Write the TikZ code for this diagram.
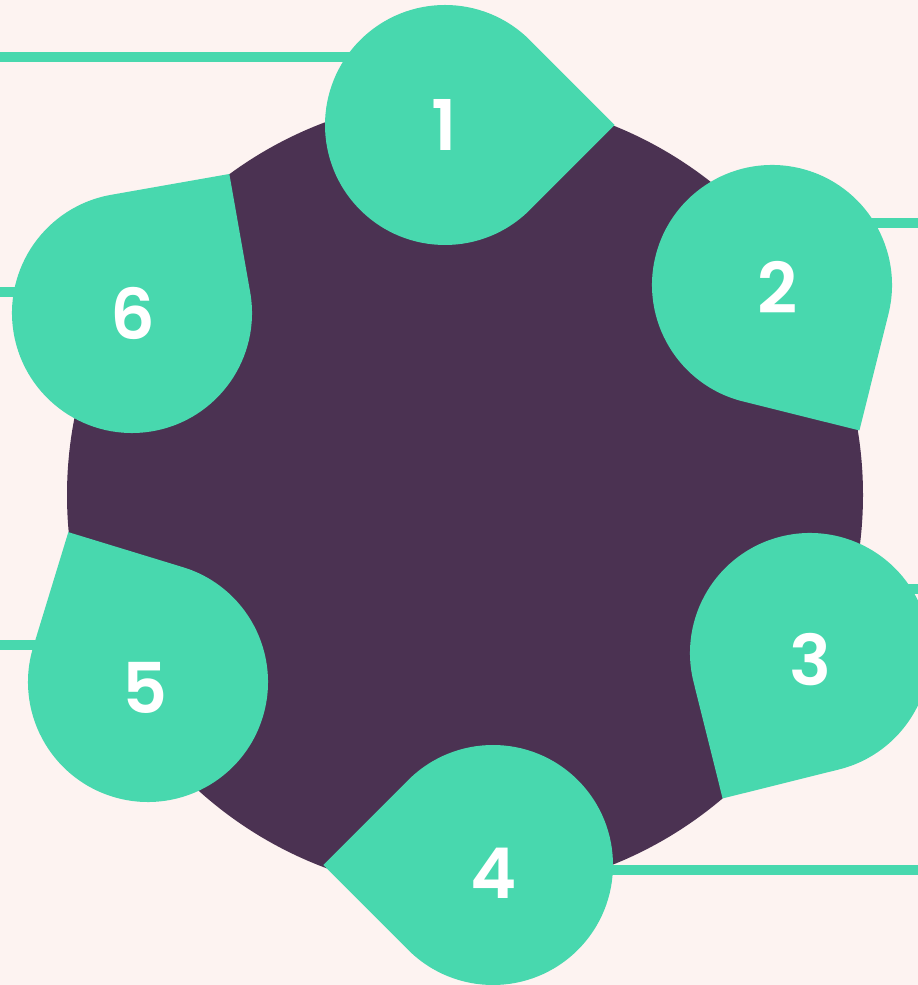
\documentclass[tikz,border=0pt]{standalone}
\usepackage{fontspec}
\newfontfamily\numfont{Poppins}[BoldFont={Poppins SemiBold}]
\usetikzlibrary{calc}
\definecolor{bgpink}{HTML}{FDF3F1}
\definecolor{hubpurple}{HTML}{4B3252}
\definecolor{dropgreen}{HTML}{48D8AE}
\tikzset{
    drop fill/.style={fill=dropgreen, draw=none},
    lead line/.style={draw=dropgreen, line width=10pt},
    num label/.style={text=white, inner sep=0pt, font=\numfont\bfseries\fontsize{70}{70}\selectfont},
}
% #1 centre, #2 direction of the sharp corner
\newcommand{\drawdrop}[2]{
    \fill[drop fill] ($(#1)+(#2:169.7)$) -- ($(#1)+(#2+45:120)$)
        arc[start angle=#2+45, end angle=#2+315, radius=120pt] -- cycle;
}

\begin{document}
\begin{tikzpicture}[x=1pt, y=1pt]
    \fill[bgpink] (0,0) rectangle (918,985);
    \useasboundingbox (0,0) rectangle (918,985);
    \clip (0,0) rectangle (918,985);
    % hub
    \coordinate (hub) at (465,490);
    \fill[hubpurple] (hub) circle[radius=398pt];
    % drop centres
    \coordinate (d1) at (445,860);
    \coordinate (d2) at (772,700);
    \coordinate (d3) at (810,332);
    \coordinate (d4) at (493,120);
    \coordinate (d5) at (148,303);
    \coordinate (d6) at (132,672);
    % free ends of the lead lines
    \coordinate (l1) at (0,928);
    \coordinate (l2) at (918,762);
    \coordinate (l3) at (918,396);
    \coordinate (l4) at (918,115);
    \coordinate (l5) at (0,340);
    \coordinate (l6) at (0,693);
    \foreach \i in {1,...,6}
        \draw[lead line] (l\i) -- (l\i -| d\i);
    % drops
    \drawdrop{d1}{0}
    \drawdrop{d2}{-59}
    \drawdrop{d3}{-121}
    \drawdrop{d4}{180}
    \drawdrop{d5}{118}
    \drawdrop{d6}{55}
    % numbers
    \node[num label] (n1) at (444,860) {1};
    \node[num label] (n2) at (778,698) {2};
    \node[num label] (n3) at (810,325) {3};
    \node[num label] (n4) at (494,112) {4};
    \node[num label] (n5) at (145,297) {5};
    \node[num label] (n6) at (133,672) {6};
\end{tikzpicture}
\end{document}
